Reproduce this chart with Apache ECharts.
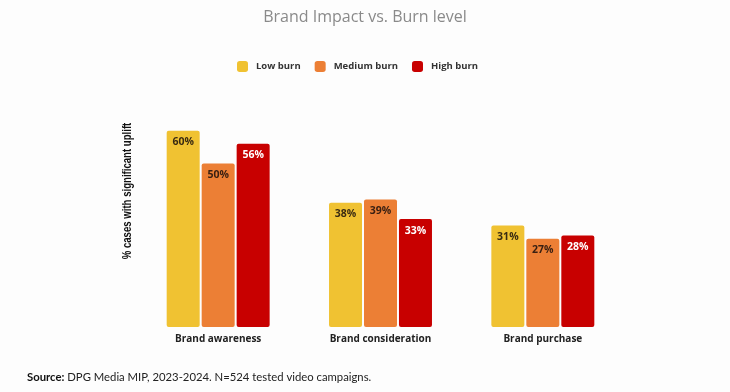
<!DOCTYPE html>
<html><head><meta charset="utf-8">
<script src="https://cdn.jsdelivr.net/npm/echarts@6/dist/echarts.min.js"></script>
<style>html,body{margin:0;padding:0;background:#fdfdfd}#c{width:730px;height:392px}</style>
</head><body><div id="c"></div>
<script>
const categories = ['Brand awareness', 'Brand consideration', 'Brand purchase'];
const lowBurn = [60, 38, 31];
const mediumBurn = [50, 39, 27];
const highBurn = [56, 33, 28];
const seriesNames = ['Low burn', 'Medium burn', 'High burn'];
const yAxisTitle = '% cases with significant uplift';
const colors = ['#F0C232', '#EC7F35', '#C80000'];
const labelColors = ['#3a2b12', '#3a2012', '#ffffff'];

const chart = echarts.init(document.getElementById('c'));
const data = [lowBurn, mediumBurn, highBurn];
chart.setOption({
  backgroundColor: '#fdfdfd',
  animation: false,
  title: {
    text: 'Brand Impact vs. Burn level', left: 'center', top: 4,
    textStyle: { color: '#8a8a8a', fontSize: 16, fontWeight: 'normal', fontFamily: 'Open Sans' }
  },
  legend: {
    top: 61, left: 237, padding: 0, itemWidth: 11, itemHeight: 11, itemGap: 14,
    icon: 'roundRect',
    textStyle: { color: '#333', fontSize: 9.5, fontWeight: 'bold', fontFamily: 'Open Sans', padding: [0, 0, 0, 3] },
    data: seriesNames
  },
  grid: { left: 137, right: 106, top: 98, bottom: 65 },
  xAxis: {
    type: 'category', data: categories,
    axisLine: { show: false }, axisTick: { show: false },
    axisLabel: { color: '#222', fontSize: 10, fontWeight: 'bold', fontFamily: 'Open Sans', margin: 7 }
  },
  yAxis: {
    type: 'value', min: 0, max: 70,
    axisLine: { show: false }, axisTick: { show: false }, axisLabel: { show: false },
    splitLine: { show: false }
  },
  series: seriesNames.map((n, i) => ({
    name: n, type: 'bar', data: data[i],
    barWidth: 33, barGap: '6%',
    itemStyle: { color: colors[i], borderRadius: 2 },
    label: {
      show: true, position: 'insideTop', distance: 6,
      formatter: '{c}%', color: labelColors[i], fontSize: 10.5, fontWeight: 'bold', fontFamily: 'Open Sans'
    }
  })),
  graphic: [{
    type: 'text', x: 128, y: 191, rotation: Math.PI / 2, scaleX: 0.8,
    style: {
      text: yAxisTitle, align: 'center', verticalAlign: 'middle',
      fontSize: 12, fontWeight: 'bold', fill: '#111', fontFamily: 'Liberation Sans'
    }
  }, {
    type: 'text', left: 27, top: 372,
    style: {
      text: '{b|Source:} DPG Media MIP, 2023-2024. N=524 tested video campaigns.',
      rich: {
        b: { fontWeight: 'bold', fontSize: 11.3, fill: '#111', fontFamily: 'Lato' }
      },
      fontSize: 11.3, fill: '#222', fontFamily: 'Lato'
    }
  }]
});
</script></body></html>
